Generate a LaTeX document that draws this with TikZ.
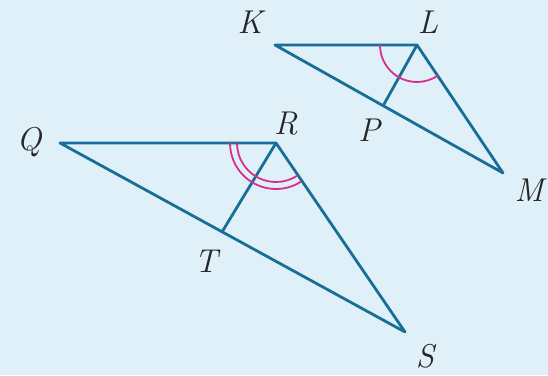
\documentclass[tikz,border=0pt]{standalone}
\usetikzlibrary{positioning}
\definecolor{bgblue}{RGB}{223,240,249}
\definecolor{edgeblue}{RGB}{24,110,150}
\definecolor{arcpink}{RGB}{214,48,140}

\begin{document}
\begin{tikzpicture}[x=1pt, y=-1pt]
    \tikzstyle{edge}=[draw=edgeblue, line width=2.8pt, line join=round]
    \tikzstyle{anglemark}=[draw=arcpink, line width=1.8pt]
    \tikzstyle{vlabel}=[font=\fontsize{33}{33}\selectfont\itshape, text=black!85, inner sep=0pt]

    \fill[bgblue] (0,0) rectangle (548,375);
    \useasboundingbox (0,0) rectangle (548,375);

    % Big triangle
    \coordinate (Q) at (60,143);
    \coordinate (R) at (276,143);
    \coordinate (S) at (405,332);
    \coordinate (T) at (222,232);

    \draw[edge] (Q) -- (R) -- (S) -- cycle;
    \draw[edge] (R) -- (T);

    \draw[anglemark] ([shift={(180:39)}]R) arc[start angle=180, end angle=56, radius=39];
    \draw[anglemark] ([shift={(180:46)}]R) arc[start angle=180, end angle=56, radius=46];

    \node[vlabel] (q_lbl) at (29,142) {Q};
    \node[vlabel] (r_lbl) at (286,124) {R};
    \node[vlabel] (s_lbl) at (425,356) {S};
    \node[vlabel] (t_lbl) at (206,261) {T};

    % Small triangle
    \coordinate (K) at (275,45);
    \coordinate (L) at (417,45);
    \coordinate (M) at (503,173);
    \coordinate (P) at (383,106);

    \draw[edge] (K) -- (L) -- (M) -- cycle;
    \draw[edge] (L) -- (P);

    \draw[anglemark] ([shift={(180:37)}]L) arc[start angle=180, end angle=56, radius=37];

    \node[vlabel] (k_lbl) at (250,22) {K};
    \node[vlabel] (l_lbl) at (428,22) {L};
    \node[vlabel] (m_lbl) at (529,190) {M};
    \node[vlabel] (p_lbl) at (369,130) {P};
\end{tikzpicture}
\end{document}
